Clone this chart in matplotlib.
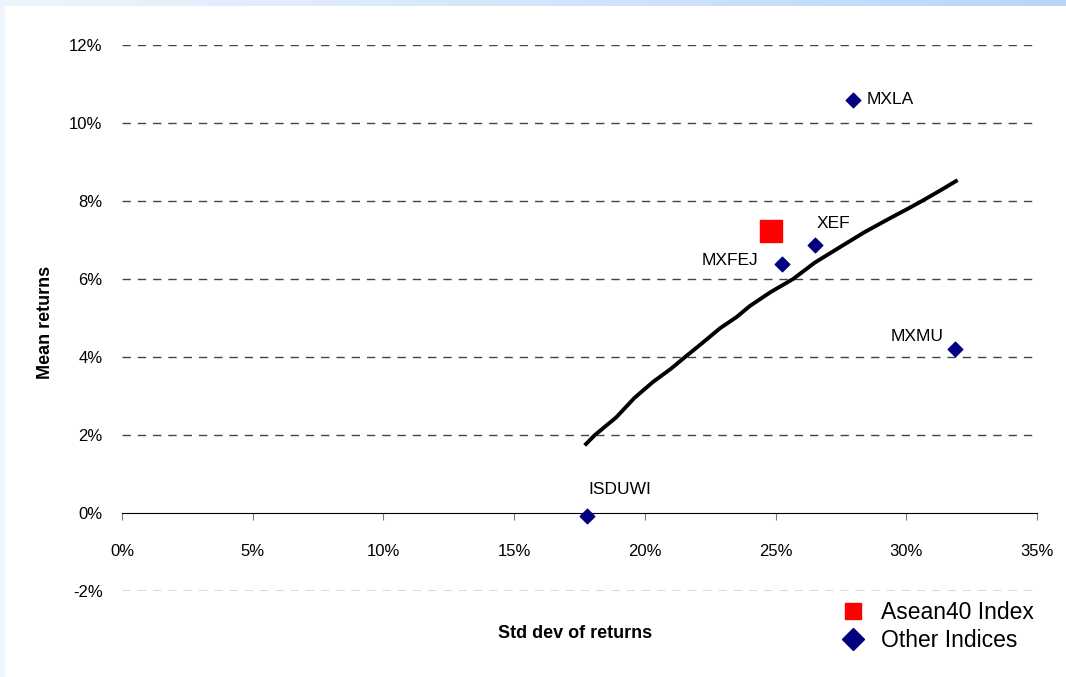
import numpy as np
import matplotlib
matplotlib.use('Agg')
import matplotlib.pyplot as plt
from matplotlib.lines import Line2D

# data (percent)
names = ['MXLA', 'XEF', 'MXFEJ', 'MXMU', 'ISDUWI']
others_sd = [27.96, 26.51, 25.25, 31.87, 17.79]
others_mean = [10.59, 6.87, 6.38, 4.21, -0.08]
asean_sd = [24.83]
asean_mean = [7.23]

frontier_sd = [17.75, 18.09, 18.9, 19.6, 20.31, 21.0, 21.54, 22.2, 22.88, 23.5,
               24.02, 24.8, 25.67, 26.5, 27.47, 28.4, 29.38, 30.0, 30.6, 31.3, 31.9]
frontier_mean = [1.77, 2.0, 2.45, 2.95, 3.36, 3.7, 4.0, 4.36, 4.74, 5.02,
                 5.31, 5.66, 6.0, 6.42, 6.82, 7.2, 7.56, 7.78, 8.0, 8.27, 8.51]

xticks = [0, 5, 10, 15, 20, 25, 30, 35]
yticks = [-2, 0, 2, 4, 6, 8, 10, 12]

plt.rcParams['font.family'] = ['Liberation Sans', 'DejaVu Sans']

fig = plt.figure(figsize=(10.66, 6.77), dpi=100)

# light blue frame bits
top = fig.add_axes([0, 1 - 6 / 677, 1, 6 / 677])
top.imshow(np.linspace(0, 1, 256).reshape(1, -1), aspect='auto',
           cmap=matplotlib.colors.LinearSegmentedColormap.from_list('g', ['#eef5fd', '#b8d6fa']))
top.axis('off')
left = fig.add_axes([0, 0, 5 / 1066, 1 - 6 / 677])
left.set_facecolor('#f0f6fd')
left.set_xticks([]); left.set_yticks([])
for s in left.spines.values():
    s.set_visible(False)

ax = fig.add_axes([122 / 1066, 1 - 591 / 677, 915 / 1066, 546 / 677])
ax.set_xlim(0, 35)
ax.set_ylim(-2, 12)

for y in yticks:
    if y != 0:
        ax.axhline(y, xmax=0.995, color='#444444', lw=1, ls=(0, (6, 5)), zorder=1)

ax.spines['bottom'].set_position(('data', 0))
ax.spines['bottom'].set_color('black')
for s in ['top', 'right', 'left']:
    ax.spines[s].set_visible(False)

ax.set_xticks(xticks)
ax.set_xticklabels([f'{t}%' for t in xticks], fontsize=12)
ax.set_yticks(yticks)
ax.set_yticklabels([f'{t}%' for t in yticks], fontsize=12)
ax.tick_params(axis='x', direction='out', length=5, color='#777777', pad=17)
ax.tick_params(axis='y', length=0, pad=14)

ax.plot(frontier_sd, frontier_mean, color='black', lw=2.8, zorder=3)
ax.scatter(others_sd, others_mean, marker='D', s=55, color='#000080', zorder=4)
ax.scatter(asean_sd, asean_mean, marker='s', s=260, color='#ff0000', zorder=4)

offsets = {'MXLA': (14, 0, 'left'), 'XEF': (2, 22, 'left'), 'MXFEJ': (-24, 4, 'right'),
           'MXMU': (-12, 12, 'right'), 'ISDUWI': (1, 27, 'left')}
for n, xs, ys in zip(names, others_sd, others_mean):
    dx, dy, ha = offsets[n]
    ax.annotate(n, (xs, ys), xytext=(dx, dy), textcoords='offset pixels',
                ha=ha, va='center', fontsize=12.5)

fig.text(45 / 1066, 1 - 322 / 677, 'Mean returns', rotation=90, ha='center', va='center',
         fontsize=13, fontweight='bold')
fig.text(575 / 1066, 1 - 634 / 677, 'Std dev of returns', ha='center', va='center',
         fontsize=13, fontweight='bold')

handles = [Line2D([], [], marker='s', ls='', color='#ff0000', markersize=12),
           Line2D([], [], marker='D', ls='', color='#000080', markersize=11)]
fig.legend(handles, ['Asean40 Index', 'Other Indices'], loc='upper left',
           bbox_to_anchor=(819 / 1066, 1 - 580 / 677), frameon=False, fontsize=16.5,
           handletextpad=0.6, labelspacing=0.25, handlelength=1.2)

fig.savefig('out.png', dpi=100)
